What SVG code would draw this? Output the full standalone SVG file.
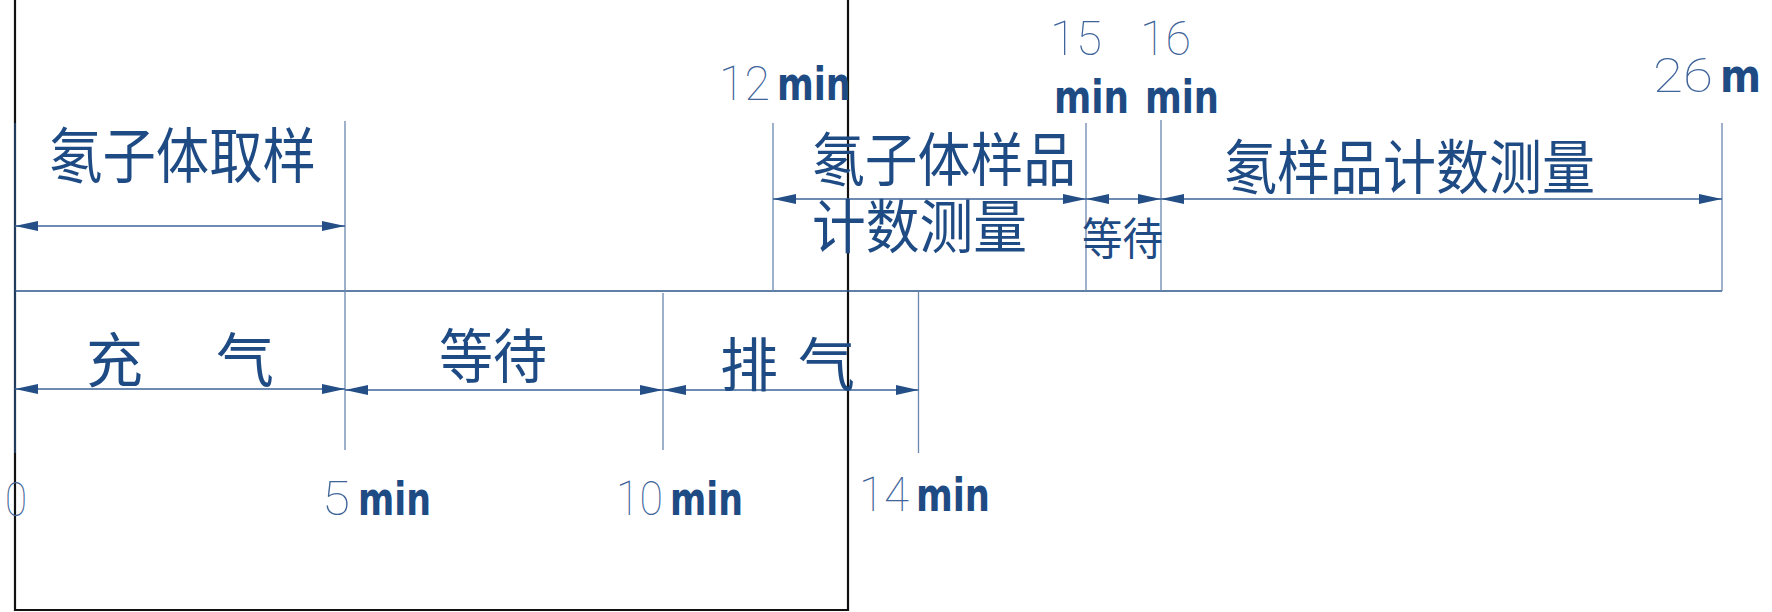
<svg xmlns="http://www.w3.org/2000/svg" width="1772" height="612" viewBox="0 0 1772 612">
<style>
.cjk{font-family:"Noto Sans CJK SC","Noto Sans CJK JP",sans-serif;fill:#1f4b84;}
.dig{font-family:Roboto,"DejaVu Sans",sans-serif;font-weight:100;fill:#3f649a;font-size:49px;}
.min{font-family:"DejaVu Sans Condensed","DejaVu Sans",sans-serif;font-weight:bold;fill:#1f4b84;font-size:46px;}
.tick{stroke:#6a87b0;stroke-width:1.3;fill:none;}
.base{stroke:#2b5488;stroke-width:1.6;fill:none;}
.arr{stroke:#3d6396;stroke-width:1.4;fill:none;marker-start:url(#ah);marker-end:url(#ah);}
</style>
<defs>
<marker id="ah" viewBox="0 0 23 10" refX="23" refY="5" markerWidth="23" markerHeight="10" markerUnits="userSpaceOnUse" orient="auto-start-reverse">
<path d="M0,0 L23,5 L0,10 z" fill="#234e86"/>
</marker>
</defs>
<rect width="1772" height="612" fill="#ffffff"/>
<g id="frame">
<path d="M15,-2 V610 H848 V-2" fill="none" stroke="#111111" stroke-width="2.2"/>
</g>
<g id="connectors">
<line class="base" x1="15" y1="291" x2="1722" y2="291"/>
<line class="tick" x1="15" y1="123" x2="15" y2="453" stroke-width="2.5" style="stroke:#2b5488"/>
<line class="tick" x1="345" y1="121" x2="345" y2="450"/>
<line class="tick" x1="663" y1="293" x2="663" y2="450"/>
<line class="tick" x1="773" y1="123" x2="773" y2="291"/>
<line class="tick" x1="918.5" y1="291" x2="918.5" y2="453"/>
<line class="tick" x1="1086" y1="123" x2="1086" y2="291"/>
<line class="tick" x1="1161" y1="120" x2="1161" y2="291"/>
<line class="tick" x1="1722" y1="123" x2="1722" y2="291"/>
<line class="arr" x1="15" y1="226" x2="345" y2="226"/>
<line class="arr" x1="773" y1="199" x2="1086" y2="199"/>
<line class="arr" x1="1086" y1="199" x2="1161" y2="199"/>
<line class="arr" x1="1161" y1="199" x2="1722" y2="199"/>
<line class="arr" x1="15" y1="389" x2="345" y2="389"/>
<line class="arr" x1="345" y1="390" x2="663" y2="390"/>
<line class="arr" x1="663" y1="390" x2="918.5" y2="390"/>
</g>
<g id="node-radon-sampling">
<text class="cjk" x="49" y="178" font-size="60" textLength="267" lengthAdjust="spacingAndGlyphs">氡子体取样</text>
</g>
<g id="node-progeny-count">
<text class="cjk" x="812" y="181" font-size="58" textLength="264" lengthAdjust="spacingAndGlyphs">氡子体样品</text>
<text class="cjk" x="812" y="248" font-size="58" textLength="215" lengthAdjust="spacingAndGlyphs">计数测量</text>
</g>
<g id="node-wait-upper">
<text class="cjk" x="1082" y="255" font-size="44" textLength="81" lengthAdjust="spacingAndGlyphs">等待</text>
</g>
<g id="node-radon-count">
<text class="cjk" x="1224" y="189" font-size="59" textLength="371" lengthAdjust="spacingAndGlyphs">氡样品计数测量</text>
</g>
<g id="node-fill">
<text class="cjk" x="86" y="382" font-size="59" textLength="57" lengthAdjust="spacingAndGlyphs">充</text>
<text class="cjk" x="216" y="382" font-size="59" textLength="58" lengthAdjust="spacingAndGlyphs">气</text>
</g>
<g id="node-wait-lower">
<text class="cjk" x="439" y="378" font-size="59" textLength="108" lengthAdjust="spacingAndGlyphs">等待</text>
</g>
<g id="node-exhaust">
<text class="cjk" x="720" y="386" font-size="58" textLength="58" lengthAdjust="spacingAndGlyphs">排</text>
<text class="cjk" x="798" y="386" font-size="58" textLength="57" lengthAdjust="spacingAndGlyphs">气</text>
</g>
<g id="time-labels">
<text class="dig" x="5" y="516" textLength="22" lengthAdjust="spacingAndGlyphs">0</text>
<text class="dig" x="322" y="515" textLength="28" lengthAdjust="spacingAndGlyphs">5</text>
<text class="min" x="358" y="515" textLength="73" lengthAdjust="spacingAndGlyphs">min</text>
<text class="dig" x="616" y="515" textLength="47" lengthAdjust="spacingAndGlyphs">10</text>
<text class="min" x="670" y="515" textLength="73" lengthAdjust="spacingAndGlyphs">min</text>
<text class="dig" x="859" y="511" textLength="50" lengthAdjust="spacingAndGlyphs">14</text>
<text class="min" x="916" y="511" textLength="74" lengthAdjust="spacingAndGlyphs">min</text>
<text class="dig" x="719" y="100" textLength="51" lengthAdjust="spacingAndGlyphs">12</text>
<text class="min" x="777" y="100" textLength="74" lengthAdjust="spacingAndGlyphs">min</text>
<text class="dig" x="1050" y="55" textLength="52" lengthAdjust="spacingAndGlyphs">15</text>
<text class="min" x="1054" y="113" textLength="75" lengthAdjust="spacingAndGlyphs">min</text>
<text class="dig" x="1140" y="55" textLength="51" lengthAdjust="spacingAndGlyphs">16</text>
<text class="min" x="1145" y="113" textLength="74" lengthAdjust="spacingAndGlyphs">min</text>
<text class="dig" x="1653" y="92" textLength="60" lengthAdjust="spacingAndGlyphs">26</text>
<text class="min" x="1720" y="92" textLength="41" lengthAdjust="spacingAndGlyphs">m</text>
</g>
</svg>
